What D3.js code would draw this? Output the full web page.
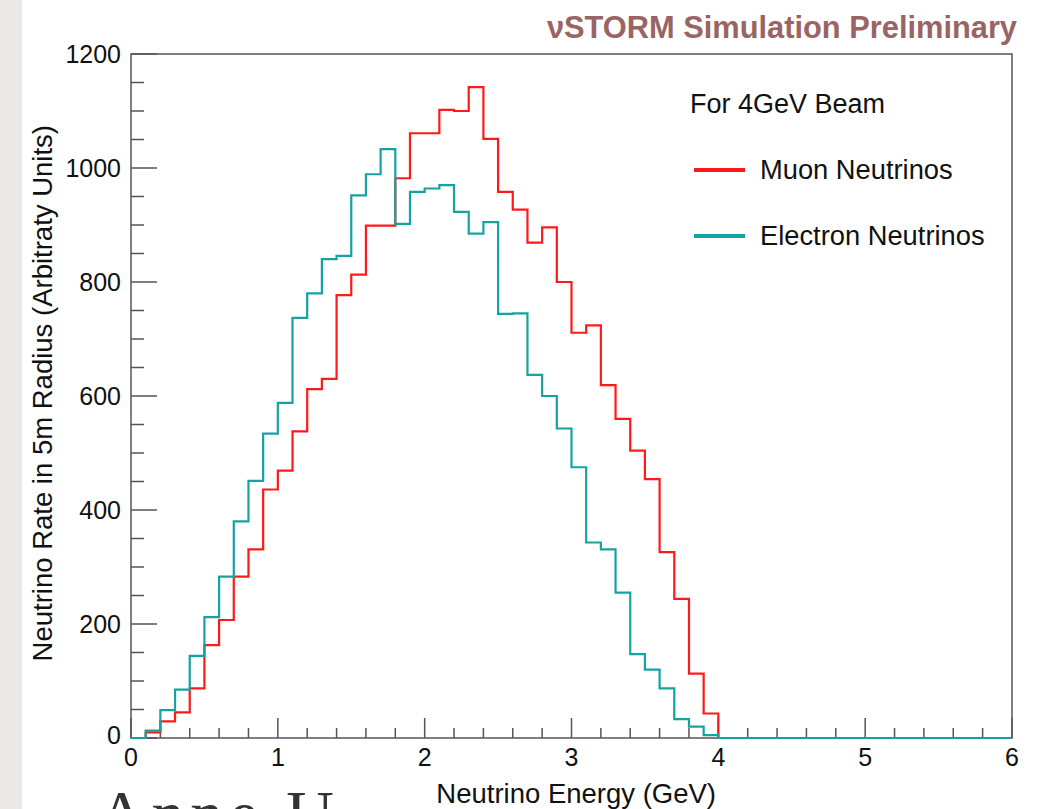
<!DOCTYPE html>
<html>
<head>
<meta charset="utf-8">
<style>
  html, body { margin: 0; padding: 0; background: #fff; }
  svg { display: block; }
</style>
</head>
<body>
<svg width="1050" height="809" font-family="'Liberation Sans', Arial, sans-serif"></svg>
<script src="https://d3js.org/d3.v7.min.js"></script>
<script>
// bins of 0.1 GeV from 0 to 6 GeV (60 bins), counts
var binWidth = 0.1;
var muonCounts = [
  0, 10, 29, 45, 87, 163, 207, 283, 331, 436,
  469, 538, 612, 630, 777, 813, 899, 899, 982, 1061,
  1061, 1102, 1100, 1142, 1051, 958, 927, 869, 896, 800,
  711, 724, 619, 560, 504, 454, 326, 244, 113, 43,
  0, 0, 0, 0, 0, 0, 0, 0, 0, 0,
  0, 0, 0, 0, 0, 0, 0, 0, 0, 0
];
var electronCounts = [
  0, 13, 49, 85, 144, 212, 283, 380, 451, 534,
  588, 737, 780, 840, 846, 952, 989, 1033, 902, 958,
  964, 970, 923, 885, 905, 744, 745, 637, 600, 543,
  475, 343, 331, 255, 147, 120, 87, 33, 20, 5,
  0, 0, 0, 0, 0, 0, 0, 0, 0, 0,
  0, 0, 0, 0, 0, 0, 0, 0, 0, 0
];
var xMajorTicks = [0, 1, 2, 3, 4, 5, 6];
var yMajorTicks = [0, 200, 400, 600, 800, 1000, 1200];
var seriesNames = ["Muon Neutrinos", "Electron Neutrinos"];
var seriesColors = ["#ff1a1a", "#17a2a2"];

var svg = d3.select("svg");

// paper strip on the left
svg.append("rect").attr("x", 0).attr("y", 0).attr("width", 22).attr("height", 809)
    .attr("fill", "#ebe9e5");

var x = d3.scaleLinear().domain([0, 6]).range([131, 1012]),
    y = d3.scaleLinear().domain([0, 1200]).range([738, 54]);

// frame
svg.append("rect")
    .attr("x", x(0)).attr("y", y(1200))
    .attr("width", x(6) - x(0)).attr("height", y(0) - y(1200))
    .attr("fill", "none").attr("stroke", "#555").attr("stroke-width", 1.5);

// ticks
var xMinor = d3.range(0, 6.001, 0.2);
svg.append("g").selectAll("line").data(xMinor).enter().append("line")
    .attr("x1", function(d) { return x(d); }).attr("x2", function(d) { return x(d); })
    .attr("y1", y(0))
    .attr("y2", function(d) { return xMajorTicks.indexOf(Math.round(d * 10) / 10) >= 0 ? y(0) - 20 : y(0) - 10; })
    .attr("stroke", "#555").attr("stroke-width", 1.5);

var yMinor = d3.range(0, 1201, 50);
svg.append("g").selectAll("line").data(yMinor).enter().append("line")
    .attr("y1", function(d) { return y(d); }).attr("y2", function(d) { return y(d); })
    .attr("x1", x(0))
    .attr("x2", function(d) { return d % 200 === 0 ? x(0) + 26 : x(0) + 13; })
    .attr("stroke", "#555").attr("stroke-width", 1.5);

// tick labels
svg.append("g").selectAll("text").data(xMajorTicks).enter().append("text")
    .attr("x", function(d) { return x(d); }).attr("y", 766)
    .attr("text-anchor", "middle").attr("font-size", 25).attr("fill", "#111")
    .text(function(d) { return d; });

svg.append("g").selectAll("text").data(yMajorTicks).enter().append("text")
    .attr("x", 121).attr("y", function(d) { return y(d) + (d === 0 ? 6 : 9); })
    .attr("text-anchor", "end").attr("font-size", 25).attr("fill", "#111")
    .text(function(d) { return d; });

// axis titles
svg.append("text").attr("x", 716).attr("y", 803)
    .attr("text-anchor", "end").attr("font-size", 27.5).attr("fill", "#111")
    .text("Neutrino Energy (GeV)");

svg.append("text").attr("transform", "translate(52,125) rotate(-90)")
    .attr("text-anchor", "end").attr("font-size", 27.5).attr("fill", "#111")
    .text("Neutrino Rate in 5m Radius (Arbitraty Units)");

// histograms
var line = d3.line()
    .x(function(d) { return x(d[0]); })
    .y(function(d) { return y(d[1]); })
    .curve(d3.curveStepAfter);

[muonCounts, electronCounts].forEach(function(counts, k) {
  var pts = counts.map(function(v, i) { return [i * binWidth, v]; });
  pts.push([counts.length * binWidth, counts[counts.length - 1]]);
  svg.append("path").datum(pts)
      .attr("d", line)
      .attr("fill", "none")
      .attr("stroke", seriesColors[k])
      .attr("stroke-width", 2.2);
});

// title
svg.append("text").attr("x", 1017).attr("y", 38)
    .attr("text-anchor", "end").attr("font-size", 30.8).attr("font-weight", "bold")
    .attr("fill", "#9a6464")
    .text("\u03BDSTORM Simulation Preliminary");

// legend
svg.append("text").attr("x", 690).attr("y", 113)
    .attr("font-size", 27).attr("fill", "#111").text("For 4GeV Beam");

var legend = svg.append("g").selectAll("g").data(seriesNames).enter().append("g")
    .attr("transform", function(d, i) { return "translate(0," + (170 + i * 66) + ")"; });
legend.append("line")
    .attr("x1", 694).attr("x2", 745).attr("y1", 0).attr("y2", 0)
    .attr("stroke", function(d, i) { return seriesColors[i]; })
    .attr("stroke-width", 4);
legend.append("text").attr("x", 760).attr("y", 9)
    .attr("font-size", 27.3).attr("fill", "#111")
    .text(function(d) { return d; });

// slide text peeking in from below (cut off by the page edge, as in the reference)
svg.append("text").attr("x", 98).attr("y", 836)
    .attr("font-family", "'Liberation Serif', 'DejaVu Serif', serif")
    .attr("font-size", 66).attr("fill", "#333")
    .attr("textLength", 236).attr("lengthAdjust", "spacing")
    .text("Anne U");
</script>
</body>
</html>
